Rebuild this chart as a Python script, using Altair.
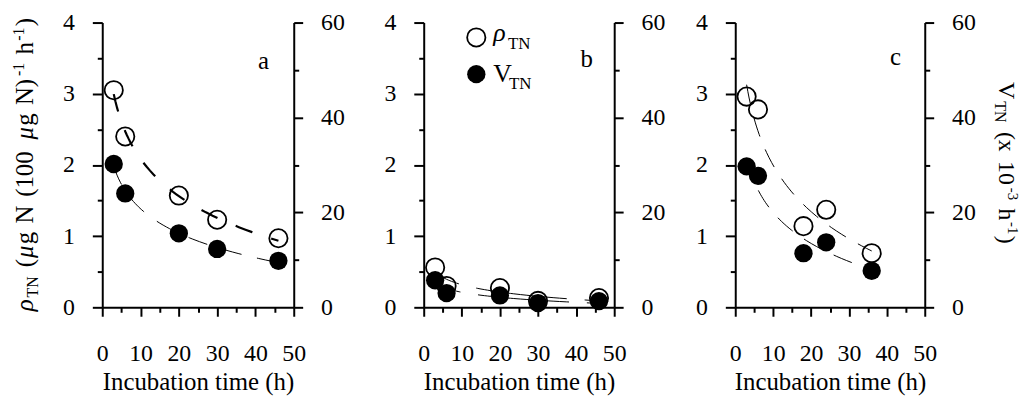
import altair as alt
import pandas as pd

FONT = "Liberation Serif"

# ---- data ----
t_a = [3, 6, 20, 30, 46]
rho_a = [3.05, 2.40, 1.57, 1.23, 0.97]
v_a = [30.2, 24.0, 15.6, 12.3, 9.8]

t_b = [3, 6, 20, 30, 46]
rho_b = [0.56, 0.30, 0.27, 0.09, 0.13]
v_b = [5.7, 3.0, 2.5, 0.9, 1.3]

t_c = [3, 6, 18, 24, 36]
rho_c = [2.96, 2.78, 1.14, 1.37, 0.76]
v_c = [29.7, 27.7, 11.4, 13.7, 7.7]

x_ticks = list(range(0, 51, 5))
left_ticks = [i * 0.5 for i in range(0, 9)]
right_ticks = list(range(0, 61, 10))

PH = 287
ONE = pd.DataFrame({"k": [0]})


def x_enc():
    return alt.X(
        "t:Q",
        scale=alt.Scale(domain=[0, 50], nice=False, zero=False),
        axis=alt.Axis(
            values=x_ticks,
            labelExpr="datum.value % 10 === 0 ? format(datum.value, 'd') : ''",
            tickSize={"condition": {"test": "datum.value % 10 === 0", "value": 9}, "value": 5},
            labelPadding=26,
            title="Incubation time (h)",
            titleFont=FONT, titleFontSize=25, titleFontWeight="normal",
            titleColor="black", titlePadding=4,
        ),
    )


def yl_enc():
    return alt.Y(
        "rho:Q",
        scale=alt.Scale(domain=[0, 4], nice=False, zero=True),
        axis=alt.Axis(
            orient="left",
            values=left_ticks,
            labelExpr="datum.value % 1 === 0 ? format(datum.value, 'd') : ''",
            tickSize={"condition": {"test": "datum.value % 1 === 0", "value": 10}, "value": 5},
            labelPadding=18,
            title=None,
        ),
    )


def yr_enc():
    return alt.Y(
        "v:Q",
        scale=alt.Scale(domain=[0, 60], nice=False, zero=True),
        axis=alt.Axis(
            orient="right",
            values=right_ticks,
            labelExpr="datum.value % 20 === 0 ? format(datum.value, 'd') : ''",
            tickSize={"condition": {"test": "datum.value % 20 === 0", "value": 9}, "value": 5},
            labelPadding=18,
            title=None,
        ),
    )


def txt(s, x, y, size=25, angle=0, style="normal", align="left", baseline="alphabetic"):
    return alt.Chart(ONE).mark_text(
        font=FONT, fontSize=size, fontStyle=style, angle=angle,
        align=align, baseline=baseline, color="black",
    ).encode(x=alt.value(x), y=alt.value(y), text=alt.value(s))


def seq_text(pieces, x_base, y_start, angle, stretch):
    """pieces: (text, style, size, baseline shift, advance px). Placed one after
    the other along a rotated baseline (no leading/trailing spaces)."""
    out = []
    pos = y_start
    for s, style, size, shift, adv in pieces:
        if angle == 270:
            out.append(txt(s, x_base + shift, pos, size, 270, style))
            pos -= adv * stretch
        else:
            out.append(txt(s, x_base - shift, pos, size, 90, style))
            pos += adv * stretch
    return out


def panel(t, rho, v, extent, dash_r, w_r, dash_v, w_v, width, extras, dash_off=0):
    df = pd.DataFrame({"t": t, "rho": rho, "v": v})
    base = alt.Chart(df)
    rho_line = base.transform_regression(
        "t", "rho", method="log", extent=extent
    ).mark_line(color="black", strokeWidth=w_r, strokeDash=dash_r,
                strokeDashOffset=dash_off).encode(x=x_enc(), y=yl_enc())
    rho_pts = base.mark_point(
        shape="circle", filled=False, size=340, strokeWidth=1.8,
        color="black", opacity=1,
    ).encode(x=x_enc(), y=yl_enc())
    v_line = base.transform_regression(
        "t", "v", method="log", extent=extent
    ).mark_line(color="black", strokeWidth=w_v, strokeDash=dash_v,
                strokeDashOffset=dash_off).encode(x=x_enc(), y=yr_enc())
    v_pts = base.mark_point(
        shape="circle", filled=True, size=340, color="black", opacity=1,
    ).encode(x=x_enc(), y=yr_enc())
    left = alt.layer(rho_line, rho_pts)
    right = alt.layer(v_line, v_pts)
    return alt.layer(left, right, *extras).resolve_scale(y="independent").properties(
        width=width, height=PH
    )


SP = 6.25  # a space at 25px
left_title = seq_text(
    [
        ("ρ", "italic", 25, 0, 12.5),
        ("TN", "normal", 16, 5, 21.3 + SP),
        ("(", "normal", 25, 0, 8.3),
        ("μ", "italic", 25, 0, 12.5),
        ("g", "normal", 25, 0, 12.5 + SP),
        ("N", "normal", 25, 0, 18.05 + SP),
        ("(100", "normal", 25, 0, 45.8 + SP),
        ("μ", "italic", 25, 0, 12.5),
        ("g", "normal", 25, 0, 12.5 + SP),
        ("N)", "normal", 25, 0, 26.35),
        ("-1", "normal", 16, -9, 13.3 + SP),
        ("h", "normal", 25, 0, 12.5),
        ("-1", "normal", 16, -9, 13.3),
        (")", "normal", 25, 0, 8.3),
    ],
    x_base=-70, y_start=291, angle=270, stretch=1.11,
)

right_title = seq_text(
    [
        ("V", "normal", 24, 0, 17.3),
        ("TN", "normal", 16, 4, 21.3 + SP),
        ("(x", "normal", 24, 0, 20.0 + SP),
        ("10", "normal", 24, 0, 24),
        ("-3", "normal", 15, -9, 12.5 + SP),
        ("h", "normal", 24, 0, 12),
        ("-1", "normal", 15, -9, 12.5),
        (")", "normal", 24, 0, 8),
    ],
    x_base=266, y_start=60, angle=90, stretch=1.12,
)

legend = [
    alt.Chart(ONE).mark_point(shape="circle", filled=False, size=340, strokeWidth=1.8,
                              color="black", opacity=1).encode(x=alt.value(53), y=alt.value(15)),
    alt.Chart(ONE).mark_point(shape="circle", filled=True, size=340,
                              color="black", opacity=1).encode(x=alt.value(53), y=alt.value(52)),
    txt("ρ", 70, 19, 26, style="italic"),
    txt("TN", 85, 27, 17),
    txt("V", 70, 60, 26),
    txt("TN", 86, 67, 17),
]

pa = panel(t_a, rho_a, v_a, [3, 46], [18, 20], 2.2, [20, 16], 1, 193,
           left_title + [txt("a", 157, 47)])
pb = panel(t_b, rho_b, v_b, [3, 46], [92, 18], 1, [92, 18], 1, 192,
           legend + [txt("b", 158, 45)], dash_off=65)
pc = panel(t_c, rho_c, v_c, [3, 36], [20, 14], 1, [20, 14], 1, 191,
           right_title + [txt("c", 156, 43)])

right_pair = alt.hconcat(pb, pc, spacing=122, bounds="flush")
chart = alt.hconcat(pa, right_pair, spacing=131, bounds="flush").properties(
    autosize=alt.AutoSizeParams(type="none"),
    padding={"left": 95, "top": 12, "right": 925, "bottom": 378},
).configure_view(stroke=None).configure_axis(
    labelFont=FONT, labelFontSize=24, labelColor="black",
    domainColor="black", domainWidth=2, tickColor="black", tickWidth=2,
    grid=False, labelFlush=False, labelOverlap=False,
)

chart.save("out.html", embed_options={"renderer": "svg", "actions": False})
